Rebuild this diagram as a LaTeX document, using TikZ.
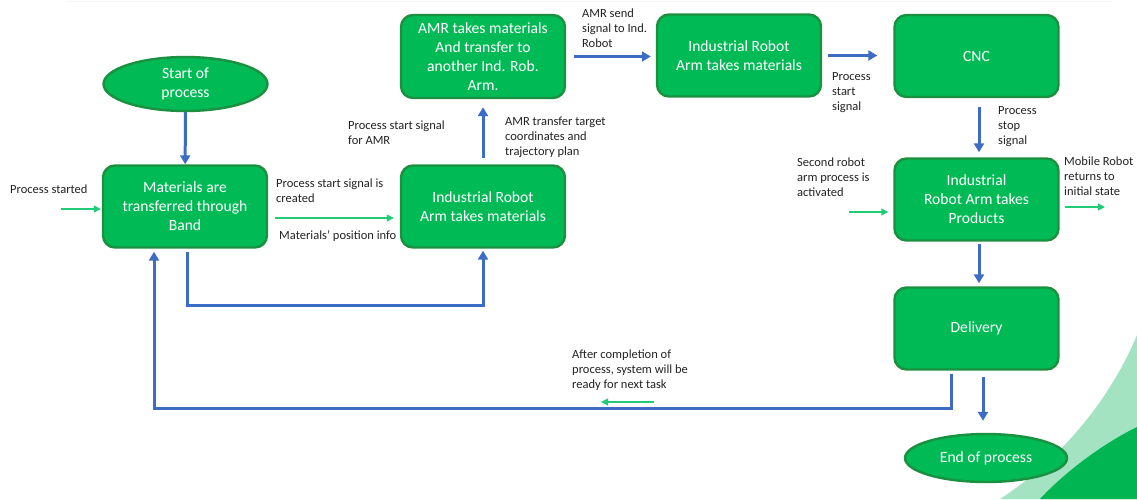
\documentclass[tikz,border=0pt]{standalone}
\usepackage{fontspec}
\setmainfont{Carlito}
\usetikzlibrary{shapes.geometric,arrows.meta}
\definecolor{boxfill}{HTML}{00BB55}
\definecolor{boxedge}{HTML}{1A9040}
\definecolor{flowblue}{HTML}{3D6CC6}
\definecolor{siggreen}{HTML}{22CC77}
\definecolor{labelink}{HTML}{222222}
\definecolor{swooshlight}{HTML}{A3E3C2}
\definecolor{swooshdark}{HTML}{00B552}
\begin{document}
\begin{tikzpicture}[x=1pt,y=-1pt,
  stepbox/.style={draw=boxedge, line width=2.4pt, fill=boxfill, rounded corners=12pt,
    minimum width=164pt, minimum height=82pt, text=white, align=center,
    font=\fontsize{15.6}{19}\selectfont, inner sep=0pt},
  terminal/.style={ellipse, draw=boxedge, line width=2.4pt, fill=boxfill, text=white,
    align=center, font=\fontsize{15.6}{19}\selectfont, inner sep=0pt},
  flow/.style={draw=flowblue, line width=3pt, -{Triangle[length=9pt,width=10pt]}},
  sig/.style={draw=siggreen, line width=1.3pt, -{Triangle[length=7pt,width=7pt]}},
  note/.style={anchor=north west, inner sep=0pt, align=left, text=labelink,
    font=\fontsize{12.5}{15}\selectfont}]
\useasboundingbox (0,0) rectangle (1137,499);

% decorative corner swooshes
\fill[swooshlight] (1137,335) .. controls (1110,400) and (1060,460) .. (1000,499) -- (1137,499) -- cycle;
\fill[swooshdark] (1137,427) .. controls (1100,445) and (1062,475) .. (1040,499) -- (1137,499) -- cycle;
\draw[gray!7, line width=1pt] (67,1.5) -- (1113,1.5);

% process steps
\node[terminal, minimum width=164pt, minimum height=54pt] (start) at (185.5,84) {Start of\\process};
\node[stepbox] (band) at (185,206.5) {Materials are\\transferred through\\Band};
\node[stepbox] (arm1) at (483,206.5) {Industrial Robot\\Arm takes materials};
\node[stepbox, minimum height=83pt] (amr) at (483,56.5) {AMR takes materials\\And transfer to\\another Ind. Rob.\\Arm.};
\node[stepbox] (arm2) at (739,55.5) {Industrial Robot\\Arm takes materials};
\node[stepbox] (cnc) at (976.5,56) {CNC};
\node[stepbox] (arm3) at (976.5,199.5) {Industrial\\Robot Arm takes\\Products};
\node[stepbox] (deliv) at (976.5,328.5) {Delivery};
\node[terminal, minimum width=162pt, minimum height=48pt] (end) at (986,458) {End of process};

% main flow
\draw[flow] (start) -- (band);
\draw[flow, shorten <=6pt, shorten >=8pt] (arm1) -- (amr);
\draw[flow, shorten <=8pt, shorten >=5pt] (amr.east) -- (amr.east -| arm2.west);
\draw[flow, shorten <=6pt, shorten >=16pt] (arm2.east) -- (arm2.east -| cnc.west);
\draw[flow, shorten <=9pt, shorten >=5pt] ([xshift=2.5pt]cnc.south) -- ([xshift=2.5pt]arm3.north);
\draw[flow, shorten <=2pt, shorten >=3pt] ([xshift=2.5pt]arm3.south) -- ([xshift=2.5pt]deliv.north);
\draw[flow, shorten <=6pt, shorten >=12pt] ([xshift=-3pt]end.north |- deliv.south) -- ([xshift=-3pt]end.north);

% return paths
\coordinate (loopa) at (330,305);
\draw[flow, shorten <=3pt, shorten >=2pt] ([xshift=2.5pt]band.south) |- (loopa) -| (arm1.south);
\coordinate (loopb) at (560,408);
\draw[flow, shorten <=3pt, shorten >=3pt] ([xshift=-25pt]deliv.south) |- (loopb) -| ([xshift=-31pt]band.south);

% signals
\coordinate (psin) at (61,209);
\draw[sig, shorten >=1pt] (psin) -- (psin -| band.west);
\draw[sig, shorten <=7pt, shorten >=6pt] ([yshift=-11.5pt]band.east) -- ([yshift=-11.5pt]arm1.west);
\coordinate (sra) at (849,212);
\draw[sig, shorten >=5pt] (sra) -- (sra -| arm3.west);
\coordinate (mrr) at (1105,207);
\draw[sig, shorten <=5pt] (mrr -| arm3.east) -- (mrr);
\coordinate (rdya) at (654,402);
\coordinate (rdyb) at (601,402);
\draw[sig] (rdya) -- (rdyb);

% annotations
\node[note] (n1) at (10,185) {Process started};
\node[note] (n2) at (276,179) {Process start signal is\\created};
\node[note] (n3) at (279,230) {Materials' position info};
\node[note] (n4) at (348,121) {Process start signal\\for AMR};
\node[note] (n5) at (505,117) {AMR transfer target\\coordinates and\\trajectory plan};
\node[note] (n6) at (582,9) {AMR send\\signal to Ind.\\Robot};
\node[note] (n7) at (832,72) {Process\\start\\signal};
\node[note] (n8) at (998,106) {Process\\stop\\signal};
\node[note] (n9) at (797,158) {Second robot\\arm process is\\activated};
\node[note] (n10) at (1064,157) {Mobile Robot\\returns to\\initial state};
\node[note] (n11) at (572,350) {After completion of\\process, system will be\\ready for next task};
\end{tikzpicture}
\end{document}
